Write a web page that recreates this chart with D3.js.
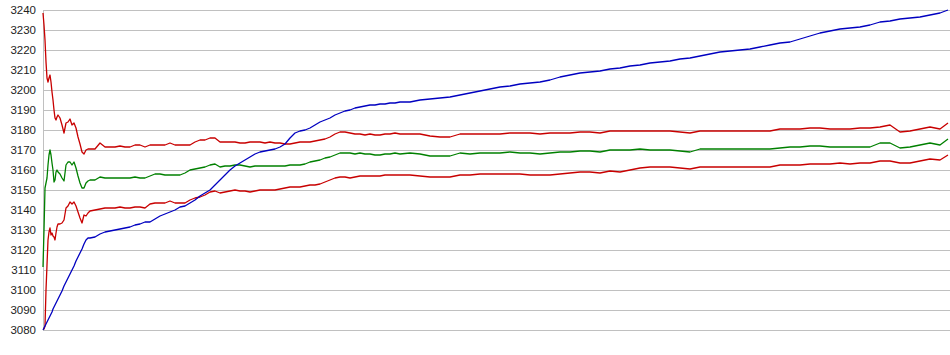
<!DOCTYPE html>
<html>
<head>
<meta charset="utf-8">
<script src="https://cdn.jsdelivr.net/npm/d3@7"></script>
<style>
  html, body { margin: 0; padding: 0; background: #ffffff; }
  svg { display: block; }
</style>
</head>
<body>
<svg id="chart" width="950" height="355"></svg>
<script>
// ---------- DATA ----------
// sample positions (x index)
const samples = [
  0,1,2,3,4,5,6,7,8,9,10,11,12,13,14,15,
  17,19,21,23,25,27,29,31,33,35,37,39,41,43,45,47,
  52,57,62,67,72,77,82,87,92,97,
  102,107,112,117,122,127,132,137,142,147,
  152,157,162,167,172,177,182,187,192,197,
  202,207,212,217,222,227,232,237,242,247,
  252,257,262,267,272,277,282,287,292,297,
  302,307,312,317,322,327,332,337,342,347,
  352,357,
  367,377,387,397,407,417,427,437,447,457,
  467,477,487,497,507,517,527,537,547,557,
  567,577,587,597,607,617,627,637,647,657,
  667,677,687,697,707,717,727,737,747,757,
  767,777,787,797,807,817,827,837,847,857,
  867,877,887,897,
  905
];

const upperBand = [
  3238.5,3232.5,3225,3214,3206,3204,3206,3207.5,3204,3199,3195,3190,3186,3185,3186.5,3187.5,
  3186,3182.5,3178.5,3183.5,3184,3185.5,3182.5,3183.5,3181,3176.5,3173,3169,3168,3170,3170.5,3170.5,
  3170.5,3173.5,3171.5,3171.5,3171.5,3172,3171.5,3171.5,3172.5,3172.5,
  3171.5,3172.5,3172.5,3172.5,3172.5,3173.5,3172.5,3172.5,3172.5,3172.5,
  3174,3175,3175,3176,3176,3174,3174,3174,3174,3173.5,
  3173.5,3174,3174,3174,3173.5,3174,3173.5,3173.5,3173,3173,
  3173.5,3174,3174,3174,3174.5,3175,3175.5,3176.5,3178,3179,
  3179,3178.5,3178,3178,3177.5,3178,3177.5,3177.5,3178,3178,
  3178.5,3178,
  3178,3178,3177,3176.5,3176.5,3178,3178,3178,3178,3178,
  3178.5,3178.5,3178.5,3178,3178.5,3178.5,3178.5,3179,3179,3178.5,
  3179.5,3179.5,3179.5,3179.5,3179.5,3179.5,3179.5,3179,3178.5,3179.5,
  3179.5,3179.5,3179.5,3179.5,3179.5,3179.5,3179.5,3180.5,3180.5,3180.5,
  3181,3181,3180.5,3180.5,3180.5,3181,3181,3181.5,3182.5,3179,
  3179.5,3180.5,3181.5,3180.5,
  3183.5
];

const middleLine = [
  3111.5,3130,3151,3153.5,3156,3162.5,3167.5,3170,3167.5,3163.5,3160,3154,3155,3159,3160,3159,
  3158,3156,3154.5,3162.5,3164,3164,3162.5,3164,3161,3157,3153.5,3151,3151,3153.5,3154.5,3155,
  3155,3156.5,3156,3156,3156,3156,3156,3156,3156.5,3156,
  3156,3157,3158,3158,3157.5,3157.5,3157.5,3157.5,3158.5,3160,
  3160.5,3161,3161.5,3162.5,3163,3161.5,3162,3162,3162.5,3162.5,
  3162,3161.5,3162,3162,3162,3162,3162,3162,3162,3162.5,
  3162.5,3162.5,3163,3164,3164.5,3165,3166,3166.5,3167.5,3168.5,
  3168.5,3168.5,3168,3168.5,3168,3168,3167.5,3167.5,3168,3168,
  3168.5,3168,
  3168.5,3168,3167,3167,3167,3168.5,3168,3168.5,3168.5,3168.5,
  3169,3168.5,3168.5,3168,3168.5,3169,3169,3169.5,3169.5,3169,
  3170,3170,3170,3170.5,3170,3170,3170,3169.5,3169,3170.5,
  3170.5,3170.5,3170.5,3170.5,3170.5,3170.5,3170.5,3171,3171.5,3171.5,
  3172,3172,3171.5,3171.5,3171.5,3171.5,3171.5,3173.5,3173.5,3171,
  3171.5,3172.5,3173.5,3172.5,
  3175.5
];

const lowerBand = [
  3080.5,3080.5,3082,3100,3112.5,3125,3129,3131,3127.5,3128.5,3127,3126.5,3125,3128.5,3131.5,3133,
  3133,3133.5,3135,3141,3142,3144,3143,3144,3142,3139,3136,3133.5,3137.5,3137,3138.5,3139.5,
  3140,3140.5,3141,3141,3141,3141.5,3141,3141,3141.5,3141.5,
  3141,3143,3143.5,3143.5,3143.5,3144.5,3143.5,3143.5,3143.5,3145,
  3146,3146.5,3147.5,3149,3149.5,3148.5,3149,3149.5,3150,3149.5,
  3149.5,3149,3149.5,3150,3150,3150,3150,3150.5,3151,3151.5,
  3151.5,3151.5,3152,3152.5,3152.5,3153,3154,3155,3156,3156.5,
  3156.5,3156,3156.5,3157,3157,3157,3157,3157,3157.5,3157.5,
  3157.5,3157.5,
  3157.5,3157,3156.5,3156.5,3156.5,3157.5,3157.5,3158,3158,3158,
  3158,3158,3157.5,3157.5,3157.5,3158,3158.5,3159,3159,3158.5,
  3159.5,3159,3160,3161,3161.5,3161.5,3161.5,3161,3160.5,3161.5,
  3161.5,3161.5,3161.5,3161.5,3161.5,3161.5,3161.5,3162.5,3162.5,3162.5,
  3163,3163,3163,3163.5,3163,3163.5,3163.5,3164.5,3164.5,3163.5,
  3163.5,3164.5,3165.5,3165,
  3167.5
];

const priceLine = [
  3080,3081,3082,3083,3084,3085,3086,3087,3088,3089,3090.5,3091.5,3092.5,3093.5,3094.5,3095.5,
  3097.5,3099.5,3102,3104,3106,3108,3110,3112,3114.5,3116.5,3118.5,3120.5,3123,3125,3126,3126,
  3126.5,3128,3129,3129.5,3130,3130.5,3131,3131.5,3132.5,3133,
  3134,3134,3135.5,3137,3138,3139,3140,3141.5,3142,3143.5,
  3145,3147,3148.5,3150,3152.5,3155,3157.5,3160,3162,3163.5,
  3165,3166.5,3168,3169,3169.5,3170,3170.5,3171.5,3173,3176,
  3178.5,3179.5,3180,3181,3182.5,3184,3185,3186,3187.5,3188.5,
  3189.5,3190,3191,3191.5,3192,3192.5,3192.5,3193,3193,3193.5,
  3193.5,3194,
  3194,3195,3195.5,3196,3196.5,3197.5,3198.5,3199.5,3200.5,3201.5,
  3202,3203,3203.5,3204,3205,3206.5,3207.5,3208.5,3209,3209.5,
  3210.5,3211,3212,3212.5,3213.5,3214,3214.5,3215.5,3216,3217,
  3218,3219,3219.5,3220,3220.5,3221.5,3222.5,3223.5,3224,3225.5,
  3227,3228.5,3229.5,3230.5,3231,3231.5,3232.5,3234,3234.5,3235.5,
  3236,3236.5,3237.5,3238.5,
  3240
];

const yTicks = [3080,3090,3100,3110,3120,3130,3140,3150,3160,3170,3180,3190,3200,3210,3220,3230,3240];

// ---------- DRAW ----------
const svg = d3.select("#chart");
const plotLeft = 43, plotRight = 948, plotTop = 10, plotBottom = 330;

const x = d3.scaleLinear().domain([0, 905]).range([plotLeft, plotRight]);
const y = d3.scaleLinear().domain([3080, 3240]).range([plotBottom, plotTop]);

// gridlines + labels
const yAxis = d3.axisLeft(y)
  .tickValues(yTicks)
  .tickSize(-(plotRight - plotLeft + 2))
  .tickPadding(7)
  .tickFormat(d3.format("d"));

const gAxis = svg.append("g")
  .attr("transform", `translate(${plotLeft},0)`)
  .call(yAxis);
gAxis.select(".domain").remove();
gAxis.selectAll(".tick line")
  .attr("stroke", "#c0c0c0")
  .attr("stroke-width", 1)
  .attr("shape-rendering", "crispEdges");
gAxis.selectAll(".tick text")
  .attr("fill", "#222")
  .style("font-family", "'Liberation Sans', Arial, sans-serif")
  .style("font-size", "11.5px");

// left axis line
svg.append("line")
  .attr("x1", plotLeft).attr("x2", plotLeft)
  .attr("y1", y(3240)).attr("y2", y(3080))
  .attr("stroke", "#c0c0c0")
  .attr("shape-rendering", "crispEdges");

const series = [
  { values: upperBand, color: "#c80000" },
  { values: lowerBand, color: "#c80000" },
  { values: middleLine, color: "#008000" },
  { values: priceLine, color: "#0000c0" }
];

const line = d3.line()
  .x((d, i) => x(samples[i]))
  .y(d => y(d));

series.forEach(s => {
  svg.append("path")
    .datum(s.values)
    .attr("d", line)
    .attr("fill", "none")
    .attr("stroke", s.color)
    .attr("stroke-width", 1.3)
    .attr("stroke-linejoin", "round");
});
</script>
</body>
</html>
